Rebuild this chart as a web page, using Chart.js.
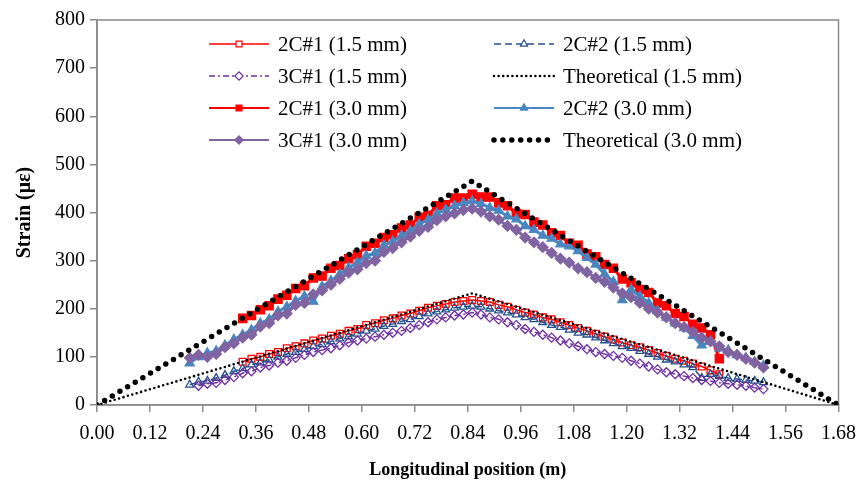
<!DOCTYPE html>
<html>
<head>
<meta charset="utf-8">
<script src="https://cdn.jsdelivr.net/npm/chart.js@4/dist/chart.umd.min.js"></script>
<style>
  html, body { margin: 0; padding: 0; background: #fff; }
  #wrap { width: 866px; height: 483px; }
</style>
</head>
<body>
<div id="wrap"><canvas id="strainChart" width="866" height="483"></canvas></div>
<script>
// Longitudinal strain distribution - measured (2C#1, 2C#2, 3C#1) vs theoretical
// positions in m, strain in micro-strain, read off the figure

const posMeasured = [0.21, 0.23, 0.25, 0.27, 0.29, 0.31, 0.33, 0.35, 0.37, 0.39,
  0.41, 0.43, 0.45, 0.47, 0.49, 0.51, 0.53, 0.55, 0.57, 0.59,
  0.61, 0.63, 0.65, 0.67, 0.69, 0.71, 0.73, 0.75, 0.77, 0.79,
  0.81, 0.83, 0.85, 0.87, 0.89, 0.91, 0.93, 0.95, 0.97, 0.99,
  1.01, 1.03, 1.05, 1.07, 1.09, 1.11, 1.13, 1.15, 1.17, 1.19,
  1.21, 1.23, 1.25, 1.27, 1.29, 1.31, 1.33, 1.35, 1.37, 1.39,
  1.41, 1.43, 1.45, 1.47, 1.49, 1.51];

// 1.5 mm deflection
const c2n1_15 = [null, null, null, null, null, null, 90, 96, 100, 106,
  110, 118, 122, 128, 134, 138, 144, 148, 154, 158,
  166, 170, 176, 180, 186, 190, 196, 202, 206, 210,
  214, 216, 218, 216, 214, 208, 204, 198, 192, 188,
  182, 178, 172, 166, 160, 154, 148, 142, 136, 130,
  124, 120, 114, 108, 102, 96, 92, 86, 80, 72,
  64, null, null, null, null, null];
const c2n2_15 = [42, 48, 50, 56, 62, 70, 76, 84, 88, 94,
  100, 106, 110, 116, 122, 126, 132, 138, 142, 148,
  154, 158, 164, 168, 174, 178, 184, 190, 194, 198,
  202, 204, 206, 204, 200, 196, 192, 188, 182, 178,
  172, 166, 162, 156, 150, 146, 140, 134, 128, 122,
  118, 112, 106, 100, 94, 90, 84, 78, 56, 64,
  60, 56, 54, 52, 50, 47];
const c3n1_15 = [null, 40, 44, 46, 52, 58, 66, 70, 78, 82,
  88, 92, 98, 104, 110, 114, 118, 124, 130, 134,
  138, 142, 146, 150, 154, 160, 166, 172, 178, 182,
  186, 188, 192, 188, 182, 178, 172, 166, 158, 152,
  146, 140, 134, 128, 122, 116, 110, 106, 102, 98,
  92, 86, 80, 74, 68, 64, 60, 56, 52, 50,
  46, 44, 42, 40, 36, 33];

// 3.0 mm deflection
const c2n1_30 = [null, null, null, null, null, null, 180, 186, 198, 206,
  220, 228, 242, 248, 264, 268, 284, 290, 304, 312,
  330, 336, 348, 354, 368, 374, 390, 394, 414, 416,
  430, 430, 438, 432, 432, 420, 414, 398, 396, 380,
  374, 358, 352, 336, 332, 314, 308, 292, 284, 262,
  254, 240, 234, 212, 206, 190, 184, 168, 160, 146,
  96, null, null, null, null, null];
const c2n2_30 = [87, 100, 108, 112, 124, 136, 146, 156, 170, 178,
  194, 204, 216, 226, 215, 246, 258, 272, 285, 296,
  310, 316, 332, 340, 352, 362, 376, 385, 398, 406,
  414, 420, 424, 418, 410, 404, 392, 386, 372, 364,
  352, 346, 334, 330, 320, 306, 292, 272, 256, 218,
  240, 226, 212, 196, 182, 170, 160, 144, 124, 132,
  118, 114, 104, 98, 90, 82];
const c3n1_30 = [98, 104, 100, 106, 120, 128, 140, 146, 163, 170,
  186, 190, 208, 212, 230, 238, 250, 262, 275, 282,
  295, 300, 318, 326, 338, 350, 362, 370, 384, 392,
  398, 405, 408, 402, 392, 385, 372, 364, 348, 338,
  328, 316, 304, 296, 284, 276, 264, 256, 244, 232,
  224, 212, 200, 192, 182, 170, 162, 152, 140, 132,
  122, 110, 104, 96, 88, 78];

// theoretical triangle (support - midspan - support)
const posTheory = [0, 0.85, 1.68];
const theory_15 = [0, 232, 0];
const theory_30 = [0, 465, 0];

const xTicks = [0, 0.12, 0.24, 0.36, 0.48, 0.60, 0.72, 0.84, 0.96, 1.08, 1.20, 1.32, 1.44, 1.56, 1.68];

const toXY = (xs, ys) => xs.map((x, i) => ({ x: x, y: ys[i] })).filter(p => p.y !== null);

const serif = 'Liberation Serif, Times New Roman, serif';

// legend drawn in two columns like the original
const gridLegend = {
  id: 'gridLegend',
  beforeDatasetsDraw(chart) {
    const { ctx, chartArea: a } = chart;
    ctx.save();
    ctx.strokeStyle = '#8a8a8a';
    ctx.lineWidth = 1.5;
    ctx.strokeRect(a.left, a.top, a.right - a.left, a.bottom - a.top);
    ctx.restore();
  },
  afterDraw(chart) {
    const ctx = chart.ctx;
    ctx.save();
    chart.data.datasets.forEach((ds, i) => {
      const col = i % 2, row = Math.floor(i / 2);
      const x0 = col ? 494 : 209;
      const x1 = x0 + 60;
      const y = 44 + row * 32;
      ctx.strokeStyle = ds.borderColor;
      ctx.lineWidth = Math.min(ds.borderWidth, 2.2);
      if (ds.pointRadius === 0) ctx.lineWidth = ds.borderWidth;
      ctx.lineCap = ds.borderCapStyle || 'butt';
      ctx.setLineDash(ds.borderDash || []);
      ctx.beginPath();
      ctx.moveTo(x0, y);
      ctx.lineTo(x1, y);
      ctx.stroke();
      ctx.setLineDash([]);
      if (ds.pointRadius > 0) {
        ctx.fillStyle = ds.legendFill || ds.pointBackgroundColor;
        ctx.strokeStyle = ds.pointBorderColor;
        ctx.lineWidth = 1.2;
        Chart.helpers.drawPoint(ctx, { pointStyle: ds.pointStyle, radius: 4.2, borderWidth: 1.2, rotation: 0 }, (x0 + x1) / 2, y);
      }
      ctx.fillStyle = '#000';
      ctx.font = '21px ' + serif;
      ctx.textBaseline = 'middle';
      ctx.textAlign = 'left';
      ctx.fillText(ds.label, x1 + 9, y + 1);
    });
    ctx.restore();
  }
};

function measured(label, ys, color, style, radius, filled, width, dash, order) {
  return {
    label: label,
    data: toXY(posMeasured, ys),
    borderColor: color,
    borderWidth: width,
    borderDash: dash,
    pointStyle: style,
    pointRadius: radius,
    pointBorderColor: color,
    pointBorderWidth: 1.3,
    pointBackgroundColor: filled ? color : 'rgba(255,255,255,0)',
    legendFill: filled ? color : '#fff',
    tension: 0,
    order: order
  };
}

new Chart(document.getElementById('strainChart'), {
  type: 'line',
  data: {
    datasets: [
      measured('2C#1 (1.5 mm)', c2n1_15, '#ff0000', 'rect', 4.8, false, 1.5, [], 8),
      measured('2C#2 (1.5 mm)', c2n2_15, '#24508c', 'triangle', 4.5, false, 1.5, [7, 4], 7),
      measured('3C#1 (1.5 mm)', c3n1_15, '#7030a0', 'rectRot', 4.5, false, 1.5, [6, 3, 2, 3], 6),
      {
        label: 'Theoretical (1.5 mm)',
        data: toXY(posTheory, theory_15),
        borderColor: '#000',
        borderWidth: 2.6,
        borderCapStyle: 'round',
        borderDash: [0, 4.6],
        pointRadius: 0,
        tension: 0,
        order: 5
      },
      measured('2C#1 (3.0 mm)', c2n1_30, '#ff0000', 'rect', 5.8, true, 3, [], 4),
      measured('2C#2 (3.0 mm)', c2n2_30, '#4a86c0', 'triangle', 5.2, true, 3, [], 3),
      measured('3C#1 (3.0 mm)', c3n1_30, '#8064a2', 'rectRot', 5.2, true, 3, [], 2),
      {
        label: 'Theoretical (3.0 mm)',
        data: toXY(posTheory, theory_30),
        borderColor: '#000',
        borderWidth: 5.5,
        borderCapStyle: 'round',
        borderDash: [0, 8.9],
        pointRadius: 0,
        tension: 0,
        order: 1
      }
    ]
  },
  options: {
    responsive: false,
    animation: false,
    layout: { padding: { left: 0, right: 25, top: 20, bottom: 0 } },
    plugins: {
      legend: { display: false },
      tooltip: { enabled: false }
    },
    scales: {
      x: {
        type: 'linear',
        min: 0,
        max: 1.68,
        afterFit: s => { s.height = 78; },
        afterBuildTicks: s => { s.ticks = xTicks.map(v => ({ value: v })); },
        ticks: {
          color: '#000',
          font: { family: serif, size: 20 },
          padding: 10,
          maxRotation: 0,
          autoSkip: false,
          callback: v => Number(v).toFixed(2)
        },
        grid: { drawOnChartArea: false, tickLength: 7, color: '#8a8a8a', lineWidth: 1.5 },
        border: { color: '#8a8a8a', width: 1.5 },
        title: {
          display: true,
          text: 'Longitudinal position (m)',
          color: '#000',
          font: { family: serif, size: 18, weight: 'bold' },
          padding: { top: 0, bottom: 2 }
        }
      },
      y: {
        min: 0,
        max: 800,
        afterFit: s => { s.width = 97; },
        ticks: {
          stepSize: 100,
          color: '#000',
          font: { family: serif, size: 20 },
          padding: 5
        },
        grid: { drawOnChartArea: false, tickLength: 7, color: '#8a8a8a', lineWidth: 1.5 },
        border: { color: '#8a8a8a', width: 1.5 },
        title: {
          display: true,
          text: 'Strain (με)',
          color: '#000',
          font: { family: serif, size: 20, weight: 'bold' },
          padding: { top: 13, bottom: 0 }
        }
      }
    }
  },
  plugins: [gridLegend]
});
</script>
</body>
</html>
